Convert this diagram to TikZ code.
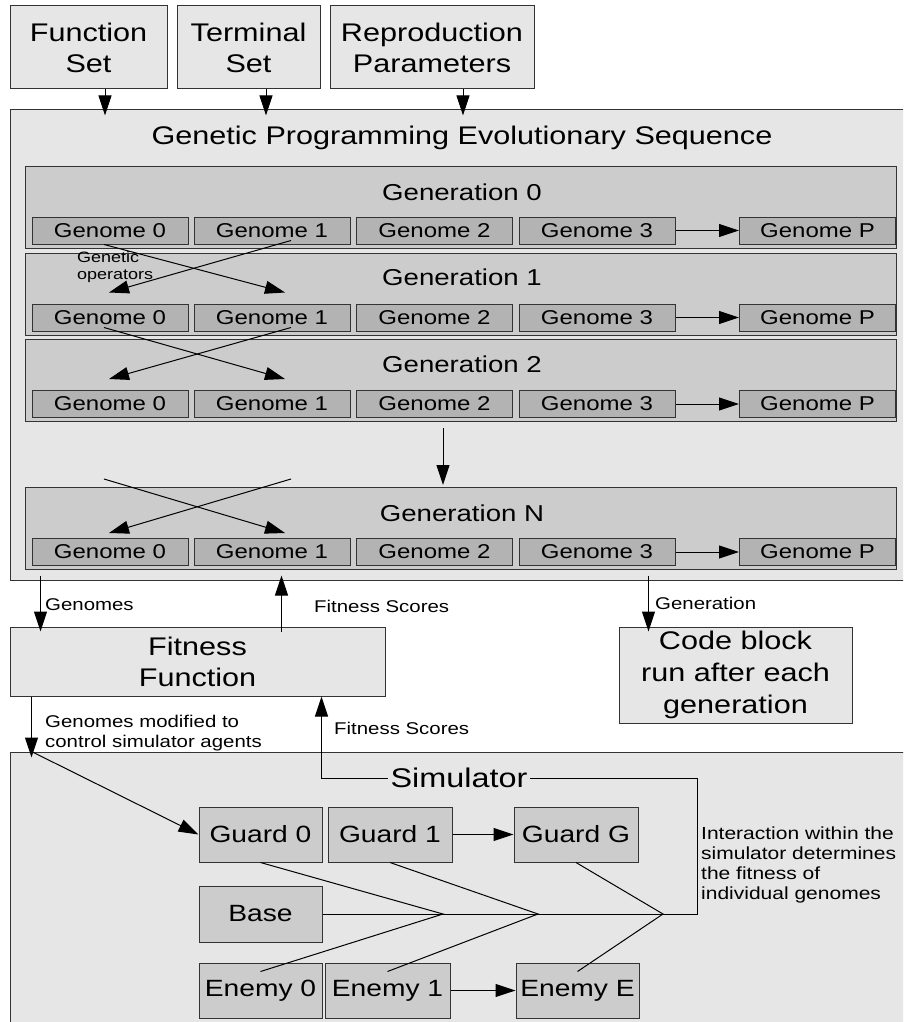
\documentclass[tikz,border=0pt]{standalone}
\usepackage{fontspec}
\setmainfont{Liberation Sans}[FakeStretch=1.2]
\usetikzlibrary{calc,arrows.meta}
\definecolor{boxlight}{HTML}{E6E6E6}
\definecolor{boxmid}{HTML}{CCCCCC}
\definecolor{boxdark}{HTML}{B3B3B3}
\definecolor{edge}{HTML}{333333}
\tikzset{
  box/.style={draw=edge,line width=1pt,fill=boxlight,align=center,inner sep=0pt,font=\fontsize{25.5}{31}\selectfont},
  genbox/.style={draw=edge,line width=1pt,fill=boxmid,inner sep=0pt,minimum width=871,minimum height=82},
  gentitle/.style={inner sep=0pt,font=\fontsize{23}{28}\selectfont},
  genome/.style={draw=edge,line width=1pt,fill=boxdark,inner sep=0pt,minimum width=156,minimum height=27,font=\fontsize{20}{24}\selectfont},
  agent/.style={draw=edge,line width=1pt,fill=boxmid,inner sep=0pt,minimum width=123,minimum height=55,font=\fontsize{23.5}{28}\selectfont},
  lbl/.style={anchor=west,align=left,inner sep=0pt,font=\fontsize{17}{20}\selectfont},
  arr/.style={line width=1pt,-{Triangle[length=20pt,width=13pt]}},
  ln/.style={line width=1pt}
}
\begin{document}
\begin{tikzpicture}[x=1pt,y=-1pt]
  \useasboundingbox (0,0) rectangle (903,1022);
  \clip (0,0) rectangle (903,1022);
  % inputs
  \node[box,minimum width=157,minimum height=83] (fs) at (88.5,47.5) {Function\\Set};
  \node[box,minimum width=143,minimum height=83] (ts) at (248.5,47.5) {Terminal\\Set};
  \node[box,minimum width=204,minimum height=83] (rp) at (432,47.5) {Reproduction\\Parameters};
  % evolutionary sequence
  \node[box,minimum width=910,minimum height=470] (seq) at (465,345) {};
  \node[box,draw=none,fill=none] (seqt) at (462,138) {Genetic Programming Evolutionary Sequence};
  \draw[arr] ($(fs.south)+(16.5,0)$) -- ++(0,26);
  \draw[arr] ($(ts.south)+(17.5,0)$) -- ++(0,26);
  \draw[arr] ($(rp.south)+(31,0)$) -- ++(0,26);
  \foreach \gen/\yb/\yt/\yg in {0/207/192/230.5,1/294/277/317.5,2/380.5/364/404,N/528.5/513/552}{
    \node[genbox] (gen\gen) at (460.5,\yb) {};
    \node[gentitle] (gt\gen) at (462,\yt) {Generation \gen};
    \foreach \i/\x in {0/110,1/272,2/434.5,3/597}
      \node[genome] (g\gen\i) at (\x,\yg) {Genome \i};
    \node[genome] (g\gen P) at (817.5,\yg) {Genome P};
    \draw[arr] (g\gen3) -- (g\gen P);
  }
  % genetic operators
  \draw[arr] ($(g00.south)+(-6,0)$) -- ($(g11.north)+(13,-11)$);
  \draw[arr] ($(g01.south)+(19,-4)$) -- ($(g10.north)+(-1,-11)$);
  \draw[arr] ($(g10.south)+(-6,-4)$) -- ($(g21.north)+(13,-11)$);
  \draw[arr] ($(g11.south)+(19,-4)$) -- ($(g20.north)+(-1,-11)$);
  \draw[arr] ($(gN0.north)+(-6,-59)$) -- ($(gN1.north)+(13,-5)$);
  \draw[arr] ($(gN1.north)+(19,-59)$) -- ($(gN0.north)+(-1,-5)$);
  \node[lbl,font=\fontsize{15}{17}\selectfont] (gop) at (77,267.5) {Genetic\\operators};
  \draw[arr] ($(gen2.south)+(-17.5,6)$) -- ($(genN.north)+(-17.5,-2)$);
  % fitness and code block
  \node[box,minimum width=375,minimum height=69] (fit) at (197.5,661.5) {Fitness\\Function};
  \node[box,minimum width=233,minimum height=96,font=\fontsize{25.5}{32}\selectfont] (code) at (735.5,675) {Code block\\run after each\\generation};
  \draw[arr] ($(seq.south west)+(31,-5)$) -- ($(fit.north west)+(31,5)$);
  \node[lbl] (lgen) at (45,605) {Genomes};
  \draw[arr] ($(fit.north west)+(272,5)$) -- ($(seq.south west)+(272,-5)$);
  \node[lbl] (lfs1) at (314,606) {Fitness Scores};
  \draw[arr] ($(seq.south west)+(639,-5)$) -- ($(code.north west)+(30,5)$);
  \node[lbl] (lgn) at (655,603) {Generation};
  % simulator
  \node[box,minimum width=910,minimum height=290] (sim) at (465,897) {};
  \node[box,draw=none,fill=none,inner sep=2pt,font=\fontsize{27}{32}\selectfont] (simt) at (459,778) {Simulator};
  \draw[arr] ($(fit.south west)+(22,0)$) -- ($(sim.north west)+(22,6)$);
  \node[lbl] (lmod) at (45,733) {Genomes modified to\\control simulator agents};
  \draw[arr] (simt.west) -| ($(fit.south west)+(312,0)$);
  \node[lbl] (lfs2) at (334,728) {Fitness Scores};
  \node[agent] (gd0) at (260.5,834.5) {Guard 0};
  \node[agent,minimum width=124] (gd1) at (390,834.5) {Guard 1};
  \node[agent,minimum width=124] (gdG) at (576,834.5) {Guard G};
  \node[agent,minimum height=56] (base) at (260.5,914) {Base};
  \node[agent] (en0) at (260.5,990.5) {Enemy 0};
  \node[agent,minimum width=125] (en1) at (387.5,990.5) {Enemy 1};
  \node[agent] (enE) at (577.5,990.5) {Enemy E};
  \draw[arr] ($(sim.north west)+(22,0)$) -- (gd0.west);
  \draw[arr] (gd1) -- (gdG);
  \draw[arr] (en1) -- (enE);
  \coordinate (j1) at (443,914);
  \coordinate (j2) at (538,914);
  \coordinate (j3) at (663,914);
  \coordinate (jr) at (697,914);
  \draw[ln] (base.east) -- (jr) |- (simt.east);
  \draw[ln] (gd0.south) -- (j1) -- ($(en0.north)+(0,9)$);
  \draw[ln] (gd1.south) -- (j2) -- ($(en1.north)+(0,9)$);
  \draw[ln] (gdG.south) -- (j3) -- ($(enE.north)+(0,9)$);
  \node[lbl,font=\fontsize{17.5}{20}\selectfont] (linter) at (701,865) {Interaction within the\\simulator determines\\the fitness of\\individual genomes};
\end{tikzpicture}
\end{document}
